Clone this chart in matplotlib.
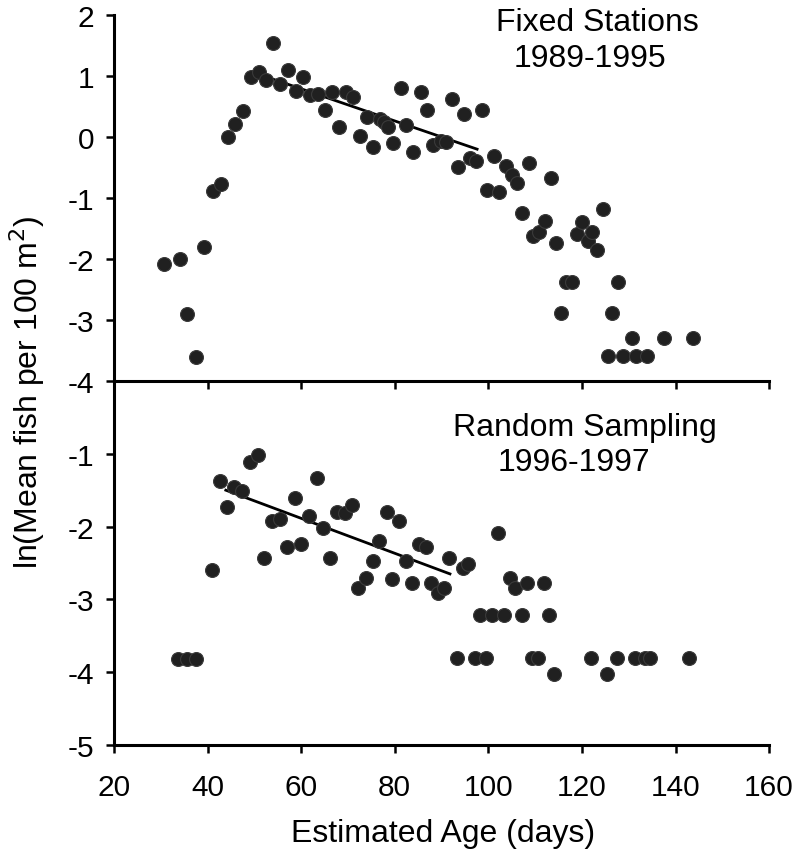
import numpy as np
import matplotlib.pyplot as plt

plt.rcParams['font.family'] = ['Liberation Sans', 'DejaVu Sans']
plt.rcParams['axes.unicode_minus'] = False

# Fixed stations 1989-1995 (top panel)
fixed_age = [30.7, 34.1, 35.7, 37.5, 39.3, 41.2, 42.8, 44.3, 45.9, 47.6,
             49.2, 50.9, 52.4, 54.0, 55.5, 57.2, 58.8, 60.3, 61.9, 63.5,
             65.1, 66.5, 68.0, 69.5, 71.1, 72.6, 74.0, 75.4, 76.8, 77.8,
             78.6, 79.7, 81.3, 82.5, 83.9, 85.6, 86.8, 88.1, 89.8, 90.9,
             92.2, 93.6, 94.9, 96.1, 97.4, 98.7, 99.8, 101.3, 102.3, 103.8,
             105.0, 106.2, 107.3, 108.7, 109.6, 110.9, 112.1, 113.4, 114.4, 115.6,
             116.7, 117.9, 118.9, 120.1, 121.2, 122.2, 123.3, 124.4, 125.5, 126.5,
             127.7, 128.7, 130.7, 131.5, 133.8, 137.5, 143.8]
fixed_ln = [-2.09, -2.00, -2.91, -3.60, -1.81, -0.88, -0.77, 0.00, 0.21, 0.42,
            0.98, 1.06, 0.94, 1.54, 0.87, 1.10, 0.75, 0.98, 0.68, 0.70,
            0.44, 0.74, 0.16, 0.73, 0.65, 0.01, 0.32, -0.16, 0.30, 0.24,
            0.17, -0.10, 0.81, 0.19, -0.25, 0.74, 0.45, -0.13, -0.06, -0.08,
            0.62, -0.49, 0.37, -0.35, -0.39, 0.45, -0.87, -0.31, -0.91, -0.47,
            -0.62, -0.76, -1.25, -0.43, -1.63, -1.55, -1.37, -0.68, -1.74, -2.89,
            -2.38, -2.38, -1.59, -1.39, -1.70, -1.55, -1.86, -1.18, -3.59, -2.89,
            -2.38, -3.59, -3.30, -3.59, -3.59, -3.30, -3.30]
fixed_fit_x = [52.0, 97.6]
fixed_fit_y = [1.00, -0.20]

# Random sampling 1996-1997 (bottom panel)
random_age = [33.7, 35.6, 37.5, 40.9, 42.6, 44.1, 45.7, 47.4, 49.1, 50.8,
              52.1, 53.8, 55.5, 56.9, 58.7, 60.0, 61.7, 63.3, 64.7, 66.2,
              67.7, 69.4, 70.9, 72.1, 73.8, 75.3, 76.7, 78.3, 79.5, 81.0,
              82.4, 83.7, 85.2, 86.7, 87.7, 89.3, 90.5, 91.6, 93.2, 94.6,
              95.7, 97.1, 98.3, 99.6, 100.8, 102.0, 103.3, 104.6, 105.8, 107.1,
              108.3, 109.4, 110.6, 111.9, 112.9, 114.1, 121.9, 125.3, 127.5, 131.4,
              133.5, 134.5, 142.9]
random_ln = [-3.82, -3.82, -3.82, -2.59, -1.38, -1.73, -1.46, -1.51, -1.11, -1.01,
             -2.43, -1.93, -1.89, -2.28, -1.61, -2.24, -1.86, -1.33, -2.02, -2.43,
             -1.80, -1.82, -1.70, -2.84, -2.71, -2.47, -2.20, -1.80, -2.72, -1.93,
             -2.47, -2.78, -2.24, -2.28, -2.78, -2.91, -2.85, -2.43, -3.81, -2.57,
             -2.52, -3.81, -3.22, -3.81, -3.22, -2.09, -3.22, -2.70, -2.84, -3.22,
             -2.77, -3.81, -3.81, -2.77, -3.22, -4.02, -3.81, -4.02, -3.81, -3.81,
             -3.81, -3.81, -3.81]
random_fit_x = [43.9, 91.8]
random_fit_y = [-1.50, -2.65]

x_ticks = [20, 40, 60, 80, 100, 120, 140, 160]

fig = plt.figure(figsize=(7.97, 8.54), dpi=100)
ax0 = fig.add_axes([0.143, 0.5527, 0.822, 0.4286])
ax1 = fig.add_axes([0.143, 0.1265, 0.822, 0.4262])

dot = dict(marker='o', s=100, color='#202020', edgecolors='#3a3a3a', linewidths=0.8, zorder=3)

ax0.scatter(fixed_age, fixed_ln, **dot)
ax0.plot(fixed_fit_x, fixed_fit_y, color='black', linewidth=2, zorder=2)
ax0.set_xlim(20, 160)
ax0.set_ylim(-4, 2)
ax0.set_yticks([2, 1, 0, -1, -2, -3, -4])
ax0.set_xticks(x_ticks)
ax0.set_xticklabels([])
ax0.text(123.2, 1.88, 'Fixed Stations', ha='center', va='center', fontsize=23)
ax0.text(121.7, 1.30, '1989-1995', ha='center', va='center', fontsize=23)

ax1.scatter(random_age, random_ln, **dot)
ax1.plot(random_fit_x, random_fit_y, color='black', linewidth=2, zorder=2)
ax1.set_xlim(20, 160)
ax1.set_ylim(-5, 0)
ax1.set_yticks([-1, -2, -3, -4, -5])
ax1.set_xticks(x_ticks)
ax1.text(120.6, -0.63, 'Random Sampling', ha='center', va='center', fontsize=23)
ax1.text(118.3, -1.11, '1996-1997', ha='center', va='center', fontsize=23)

for ax in (ax0, ax1):
    ax.spines['top'].set_visible(False)
    ax.spines['right'].set_visible(False)
    ax.spines['left'].set_linewidth(2.2)
    ax.spines['bottom'].set_linewidth(2.2)
    ax.tick_params(direction='out', length=6, width=1.8, labelsize=21.5)
    ax.tick_params(axis='y', pad=8)
    ax.tick_params(axis='x', pad=14)
    ax.patch.set_alpha(0)

fig.text(0.034, 0.541, 'ln(Mean fish per 100 m$^2$)', rotation=90,
         ha='center', va='center', fontsize=23)
fig.text(0.556, 0.024, 'Estimated Age (days)', ha='center', va='center', fontsize=23)

fig.savefig('out.png', dpi=100)
